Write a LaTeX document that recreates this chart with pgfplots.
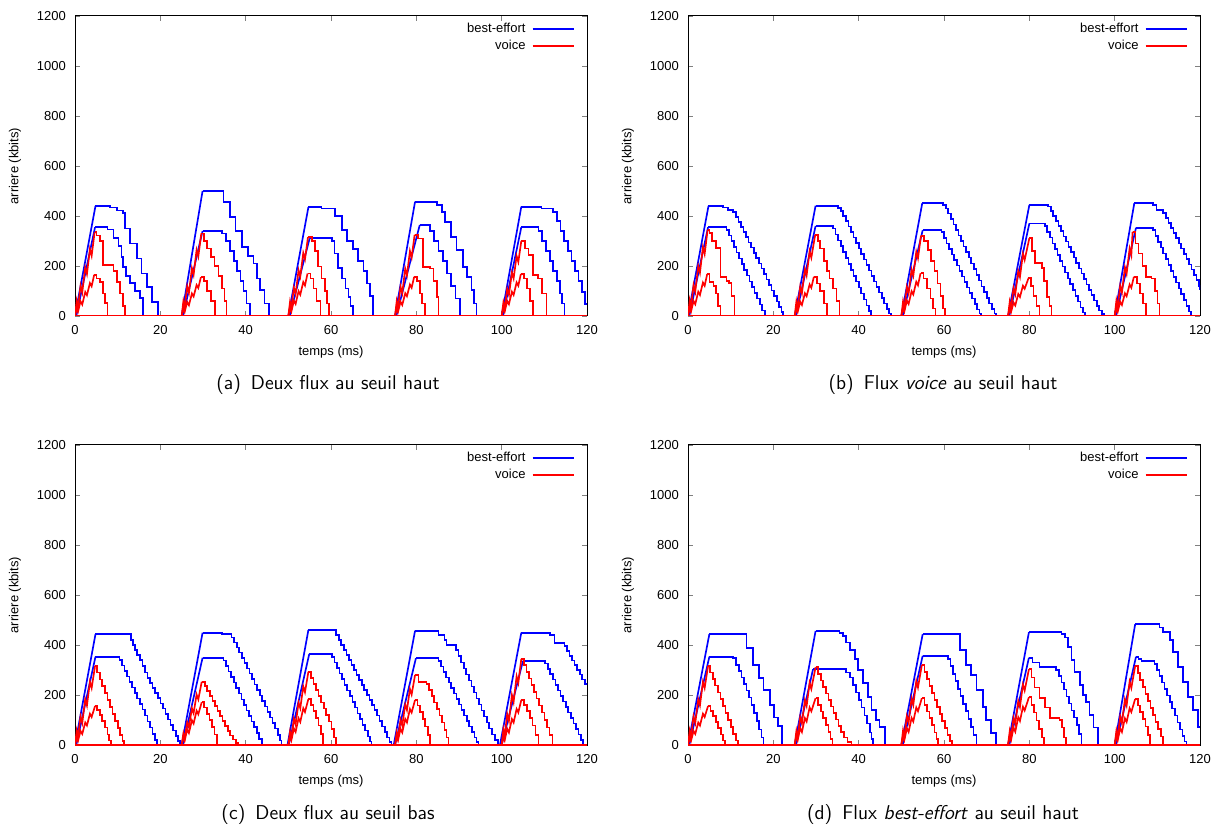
\documentclass[border=0pt]{standalone}
\usepackage{fontspec}
\usepackage{pgfplots}
\pgfplotsset{compat=1.18}
\newfontfamily\gp{Liberation Sans}
\definecolor{gpb}{RGB}{0,0,255}
\definecolor{gpr}{RGB}{255,0,0}
\pgfplotsset{gp/.style={scale only axis, width=307.2pt, height=180pt,
 xmin=0,xmax=120,ymin=0,ymax=1200, xtick={0,20,...,120}, ytick={0,200,...,1200},
 axis line style={line width=0.6pt}, tick style={line width=0.5pt}, major tick length=3pt,
 tick label style={font=\gp\fontsize{7.8}{9}\selectfont},
 /pgf/number format/assume math mode=true, /pgf/number format/1000 sep={},
 xticklabel style={yshift=-2pt}, yticklabel style={xshift=-2pt},
 xlabel={temps (ms)}, ylabel={arriere (kbits)},
 label style={font=\gp\fontsize{7.8}{9}\selectfont},
 xlabel style={at={(axis description cs:0.5,-0.12)}, anchor=center},
 ylabel style={at={(axis description cs:-0.117,0.5)}, anchor=center},
 legend style={draw=none, fill=none, at={(1,1)}, xshift=-7pt, yshift=-3pt, anchor=north east, inner sep=0pt,
   font=\gp\fontsize{7.8}{9}\selectfont, nodes={inner sep=1.2pt}, row sep=0.3pt, column sep=2.5pt},
 legend cell align=right, legend plot pos=right,
 legend image code/.code={\draw[##1] (0pt,0pt) -- (25pt,0pt);},
}}
\newcommand\B[1]{\addplot[color=gpb,line width=1pt,forget plot] coordinates {#1};}
\newcommand\BS[1]{\addplot[color=gpb,line width=1pt,const plot,forget plot] coordinates {#1};}
\newcommand\R[1]{\addplot[color=gpr,line width=1pt,forget plot] coordinates {#1};}
\newcommand\RS[1]{\addplot[color=gpr,line width=1pt,const plot,forget plot] coordinates {#1};}
\newcommand\legs{\addlegendimage{color=gpb, line width=1pt}\addlegendentry{best-effort}
\addlegendimage{color=gpr, line width=1pt}\addlegendentry{voice}}
\begin{document}
\begin{tikzpicture}
\useasboundingbox (0,0) rectangle (735.6pt,498pt);
% ---------------- (a)
\begin{axis}[gp, at={(45pt,308.4pt)}, anchor=south west]
\legs
\B{(0,0)(4.8,440)}\B{(25,0)(29.9,500)}\B{(50,0)(54.7,435)}\B{(75,0)(79.7,457)}\B{(100,0)(104.6,437)}
\B{(0.3,0)(4.7,355)}\B{(25.3,0)(29.9,340)}\B{(50.3,0)(55.0,311)}\B{(75.3,0)(80.8,364)}\B{(100.3,0)(104.6,355)}
\BS{(4.8,440)(8.2,434)(9.8,422)(11.3,413)(11.7,350)(12.9,290)(14.5,230)(15.6,170)(16.9,117)(18.0,57)(19.4,0)}
\BS{(29.9,500)(34.8,457)(36.4,397)(37.6,340)(39.1,277)(40.5,240)(41.8,210)(42.6,150)(43.4,104)(44.4,50)(45.4,0)}
\BS{(54.7,435)(57.8,430)(60.9,400)(62.5,345)(63.7,300)(65.2,267)(66.4,220)(67.6,180)(68.4,130)(69.2,80)(69.9,0)}
\BS{(79.7,457)(84.8,445)(86.0,417)(86.7,377)(88.2,317)(89.4,264)(91.0,197)(91.8,157)(92.9,104)(93.5,50)(94.1,0)}
\BS{(104.6,437)(109.3,430)(112.1,417)(112.9,380)(113.8,340)(114.6,300)(115.5,260)(116.4,220)(117.2,180)(118.0,140)(118.8,95)(119.5,47)(120,47)}
\BS{(4.7,355)(7.6,346)(9.0,312)(10.2,279)(10.9,237)(11.3,197)(12.0,160)(12.9,132)(14.0,100)(15.2,71)(16.0,0)}
\BS{(29.9,340)(34.4,330)(35.4,300)(36.4,260)(37.2,220)(38.0,180)(38.8,140)(39.5,100)(40.2,50)(41.0,0)}
\BS{(55.0,311)(60.2,300)(60.8,250)(61.7,191)(62.6,150)(63.4,110)(64.1,77)(64.6,40)(65.2,0)}
\BS{(80.8,364)(83.2,340)(84.2,300)(85.2,260)(86.3,220)(87.2,170)(88.2,120)(89.2,70)(90.2,0)}
\BS{(104.6,355)(108.6,340)(109.5,300)(110.4,260)(111.3,220)(112.1,180)(112.9,140)(113.7,90)(114.2,50)(114.7,0)}
\R{(0,0)(0.4,60)(0.7,34)(1.3,121)(1.7,94)(2.4,194)(2.8,168)(3.5,268)(3.9,241)(4.6,335)}
\R{(25,0)(25.4,59)(25.7,33)(26.3,119)(26.7,92)(27.4,191)(27.8,165)(28.5,264)(28.9,238)(29.6,330)}
\R{(50,0)(50.4,57)(50.7,32)(51.3,113)(51.7,88)(52.4,183)(52.8,158)(53.5,252)(53.9,227)(54.6,315)}
\R{(75,0)(75.4,59)(75.7,33)(76.3,117)(76.7,91)(77.4,189)(77.8,163)(78.5,260)(78.9,234)(79.6,325)}
\R{(100,0)(100.4,54)(100.7,30)(101.3,108)(101.7,84)(102.4,174)(102.8,150)(103.5,240)(103.9,216)(104.6,300)}
\R{(0,0)(0.4,30)(0.7,17)(1.3,59)(1.7,46)(2.4,96)(2.8,83)(3.5,132)(3.9,119)(4.5,165)}
\R{(25,0)(25.4,28)(25.7,16)(26.3,56)(26.7,43)(27.4,90)(27.8,78)(28.5,124)(28.9,112)(29.5,155)}
\R{(50,0)(50.4,31)(50.7,17)(51.3,61)(51.7,48)(52.4,99)(52.8,85)(53.5,136)(53.9,122)(54.5,170)}
\R{(75,0)(75.4,28)(75.7,16)(76.3,57)(76.7,44)(77.4,91)(77.8,79)(78.5,126)(78.9,113)(79.5,157)}
\R{(100,0)(100.4,30)(100.7,17)(101.3,60)(101.7,47)(102.4,97)(102.8,84)(103.5,134)(103.9,121)(104.5,168)}
\RS{(4.6,335)(5.0,322)(5.8,300)(6.6,204)(9.0,180)(9.8,137)(10.6,90)(11.2,40)(11.7,0)}
\RS{(29.6,330)(30.2,300)(31.0,270)(31.9,235)(32.7,200)(33.6,160)(34.5,110)(35.0,60)(35.5,0)}
\RS{(54.6,315)(55.5,300)(56.2,260)(57.0,198)(57.8,150)(58.6,100)(59.0,50)(59.5,0)}
\RS{(79.6,325)(80.4,310)(81.6,197)(83.2,190)(84.0,140)(84.8,77)(85.2,0)}
\RS{(104.6,300)(105.5,270)(106.3,244)(107.4,164)(108.5,150)(109.5,90)(110.5,0)}
\RS{(4.5,165)(5.0,150)(5.8,137)(6.6,90)(7.1,51)(7.6,0)}
\RS{(29.5,155)(30.2,140)(31.0,100)(31.8,60)(32.8,0)}
\RS{(54.5,170)(55.2,150)(55.9,110)(56.6,60)(57.5,0)}
\RS{(79.5,157)(80.2,140)(80.8,90)(81.4,50)(82.0,0)}
\RS{(104.5,168)(105.2,150)(105.9,110)(106.6,60)(107.4,0)}
\R{(0,0)(120,0)}
\end{axis}
% ---------------- (b)
\begin{axis}[gp, at={(412.8pt,308.4pt)}, anchor=south west]
\legs
\B{(0,0)(4.8,440)}\B{(25,0)(29.9,441)}\B{(50,0)(54.9,451)}\B{(75,0)(80.0,444)}\B{(100,0)(104.6,451)}
\B{(0.3,0)(4.7,355)}\B{(25.3,0)(29.9,360)}\B{(50.3,0)(55.0,343)}\B{(75.3,0)(80.0,370)}\B{(100.3,0)(105.0,353)}
\BS{(4.8,440)(8.2,434)(9.4,425)(10.6,415)(11.2,395)(11.8,375)(12.4,355)(13.0,335)(13.6,315)(14.2,294)(14.8,274)(15.4,252)(16.0,232)(16.6,210)(17.2,190)(17.8,168)(18.4,146)(19.0,124)(19.6,102)(20.2,80)(20.8,58)(21.4,36)(21.9,16)(22.3,0)}
\BS{(29.9,441)(35.1,432)(35.8,420)(36.4,400)(37.0,380)(37.6,358)(38.2,336)(38.8,314)(39.4,292)(40.0,270)(40.6,248)(41.2,226)(41.8,204)(42.4,182)(43.0,160)(43.6,138)(44.2,116)(44.8,94)(45.4,72)(46.0,50)(46.6,28)(47.1,10)(47.6,0)}
\BS{(54.9,451)(59.8,445)(60.4,430)(61.0,410)(61.6,388)(62.2,366)(62.8,344)(63.4,322)(64.0,300)(64.6,278)(65.2,256)(65.8,234)(66.4,210)(67.0,188)(67.6,164)(68.2,142)(68.8,118)(69.4,96)(70.0,72)(70.6,50)(71.2,28)(71.8,10)(72.2,0)}
\BS{(80.0,444)(84.4,438)(85.0,420)(85.6,400)(86.2,380)(86.8,360)(87.4,340)(88.0,318)(88.6,298)(89.2,276)(89.8,256)(90.4,234)(91.0,212)(91.6,190)(92.2,170)(92.8,148)(93.4,126)(94.0,104)(94.6,84)(95.2,62)(95.8,40)(96.4,22)(97.0,8)(97.6,0)}
\BS{(104.6,451)(109.0,445)(109.8,425)(111.4,413)(112.0,393)(112.6,372)(113.2,352)(113.8,332)(114.4,311)(115.0,290)(115.6,270)(116.2,248)(116.8,228)(117.4,206)(118.0,186)(118.6,164)(119.2,144)(119.7,120)(120,104)}
\BS{(4.7,355)(9.0,345)(9.6,322)(10.2,300)(10.8,276)(11.4,254)(12.0,230)(12.6,208)(13.2,184)(13.8,162)(14.4,138)(15.0,115)(15.6,92)(16.2,70)(16.8,46)(17.4,22)(18.0,0)}
\BS{(29.9,360)(34.0,350)(34.6,326)(35.2,302)(35.8,280)(36.4,256)(37.0,232)(37.6,208)(38.2,184)(38.8,160)(39.4,138)(40.0,114)(40.6,90)(41.2,66)(41.8,42)(42.4,20)(42.9,0)}
\BS{(55.0,343)(59.4,335)(60.0,312)(60.6,290)(61.2,268)(61.8,246)(62.4,224)(63.0,202)(63.6,180)(64.2,158)(64.8,136)(65.4,114)(66.0,92)(66.6,70)(67.2,48)(67.8,26)(68.3,10)(68.7,0)}
\BS{(80.0,370)(83.6,360)(84.2,336)(84.8,314)(85.4,290)(86.0,268)(86.6,244)(87.2,220)(87.8,198)(88.4,174)(89.0,150)(89.6,128)(90.2,104)(90.8,80)(91.4,58)(92.0,34)(92.5,14)(93.0,0)}
\BS{(105.0,353)(109.0,344)(109.6,320)(110.2,297)(110.8,274)(111.4,250)(112.0,227)(112.6,204)(113.2,180)(113.8,157)(114.4,134)(115.0,110)(115.6,87)(116.2,64)(116.8,40)(117.4,18)(117.9,0)}
\R{(0,0)(0.4,62)(0.7,35)(1.3,124)(1.7,97)(2.4,200)(2.8,173)(3.5,276)(3.9,248)(4.6,345)}
\R{(25,0)(25.4,58)(25.7,32)(26.3,117)(26.7,91)(27.4,188)(27.8,162)(28.5,259)(28.9,233)(29.8,324)}
\R{(50,0)(50.4,58)(50.7,32)(51.3,116)(51.7,90)(52.4,186)(52.8,161)(53.5,257)(53.9,231)(54.6,321)}
\R{(75,0)(75.4,56)(75.7,31)(76.3,112)(76.7,87)(77.4,180)(77.8,156)(78.5,249)(78.9,224)(80.0,311)}
\R{(100,0)(100.4,61)(100.7,34)(101.3,121)(101.7,94)(102.4,195)(102.8,169)(103.5,270)(103.9,243)(104.2,337)}
\R{(0,0)(0.4,30)(0.7,17)(1.3,60)(1.7,47)(2.4,97)(2.8,84)(3.5,134)(3.9,121)(4.5,168)}
\R{(25,0)(25.4,28)(25.7,16)(26.3,57)(26.7,44)(27.4,91)(27.8,79)(28.5,126)(28.9,113)(29.5,157)}
\R{(50,0)(50.4,31)(50.7,17)(51.3,62)(51.7,48)(52.4,99)(52.8,86)(53.5,137)(53.9,123)(54.5,171)}
\R{(75,0)(75.4,27)(75.7,15)(76.3,54)(76.7,42)(77.4,88)(77.8,76)(78.5,121)(78.9,109)(79.8,151)}
\R{(100,0)(100.4,28)(100.7,16)(101.3,57)(101.7,44)(102.4,91)(102.8,79)(103.5,126)(103.9,113)(104.5,157)}
\RS{(4.6,345)(5.0,333)(5.7,300)(6.6,271)(7.6,157)(9.0,140)(9.6,131)(10.2,80)(10.9,0)}
\RS{(29.8,324)(30.5,300)(31.0,270)(31.8,220)(32.5,180)(33.2,150)(34.0,110)(34.8,60)(35.5,0)}
\RS{(54.6,321)(55.3,300)(56.2,265)(57.0,220)(57.8,180)(58.5,130)(59.2,80)(59.8,30)(60.2,0)}
\RS{(80.0,311)(80.6,260)(81.3,211)(82.9,191)(83.4,140)(84.1,77)(84.7,40)(85.2,0)}
\RS{(104.2,337)(104.9,290)(105.6,250)(106.5,200)(107.4,157)(108.6,150)(109.4,100)(110.0,50)(110.5,0)}
\RS{(4.5,168)(5.0,137)(6.0,120)(6.6,90)(7.1,40)(7.6,0)}
\RS{(29.5,157)(30.2,130)(31.0,100)(31.8,50)(32.6,0)}
\RS{(54.5,171)(55.2,150)(56.0,110)(56.8,70)(57.4,30)(58.0,0)}
\RS{(79.8,151)(80.4,120)(81.0,80)(81.7,40)(82.4,0)}
\RS{(104.5,157)(105.2,130)(105.9,90)(106.6,50)(107.4,0)}
\R{(0,0)(120,0)}
\end{axis}
% ---------------- (c)
\begin{axis}[gp, at={(45pt,51pt)}, anchor=south west]
\legs
\B{(0,0)(4.8,443)}\B{(25,0)(29.9,449)}\B{(49.8,0)(54.7,460)}\B{(74.7,0)(79.7,457)}\B{(99.6,0)(104.6,449)}
\B{(0.3,0)(4.8,353)}\B{(25.3,0)(29.9,349)}\B{(50.1,0)(54.9,364)}\B{(75,0)(79.9,347)}\B{(100,0)(105,337)}
\BS{(4.8,443)(13.1,420)(13.6,400)(14.1,380)(14.6,360)(15.2,340)(15.8,315)(16.4,290)(17.0,268)(17.6,248)(18.2,228)(18.8,208)(19.4,188)(20.0,166)(20.6,146)(21.2,124)(21.8,102)(22.4,80)(23.0,58)(23.6,36)(24.1,16)(24.6,0)}
\BS{(29.9,449)(34.4,445)(36.7,430)(37.3,410)(37.9,390)(38.5,370)(39.1,348)(39.7,328)(40.3,306)(40.9,286)(41.5,264)(42.1,242)(42.7,220)(43.3,198)(43.9,176)(44.5,154)(45.1,132)(45.7,110)(46.3,88)(46.9,66)(47.5,40)(48.0,18)(48.4,0)}
\BS{(54.7,460)(61.2,440)(61.8,420)(62.4,400)(63.0,380)(63.6,360)(64.2,340)(64.8,320)(65.4,300)(66.0,280)(66.6,260)(67.2,240)(67.8,220)(68.4,200)(69.0,180)(69.6,160)(70.2,140)(70.8,118)(71.4,96)(72.0,74)(72.6,52)(73.2,30)(73.7,12)(74.2,0)}
\BS{(79.7,457)(85.2,440)(86.6,420)(87.1,400)(89.3,380)(89.9,355)(90.5,330)(91.1,306)(91.7,282)(92.3,258)(92.9,234)(93.5,210)(94.1,186)(94.7,162)(95.3,138)(95.9,114)(96.5,90)(97.1,66)(97.7,42)(98.4,20)(99.1,0)}
\BS{(104.6,449)(111.4,440)(112.4,407)(114.7,395)(115.3,375)(115.9,357)(116.5,338)(117.1,320)(117.7,300)(118.3,282)(118.9,262)(119.5,245)(120,240)}
\BS{(4.8,353)(10.4,340)(11.0,318)(11.6,296)(12.2,274)(12.8,252)(13.4,230)(14.0,208)(14.6,186)(15.2,164)(15.8,142)(16.4,118)(17.0,94)(17.6,70)(18.2,44)(18.7,20)(19.2,0)}
\BS{(29.9,349)(34.8,338)(35.4,316)(36.0,294)(36.6,272)(37.2,250)(37.8,228)(38.4,206)(39.0,182)(39.6,160)(40.2,138)(40.8,116)(41.4,94)(42.0,72)(42.6,48)(43.2,24)(43.9,0)}
\BS{(54.9,364)(60.2,352)(60.8,330)(61.4,308)(62.0,286)(62.6,264)(63.2,240)(63.8,218)(64.4,196)(65.0,172)(65.6,150)(66.2,126)(66.8,104)(67.4,80)(68.0,58)(68.6,34)(69.1,14)(69.5,0)}
\BS{(79.9,347)(85.2,336)(85.8,314)(86.4,292)(87.0,270)(87.6,250)(88.2,228)(88.8,206)(89.4,184)(90.0,162)(90.6,140)(91.2,118)(91.8,96)(92.4,74)(93.0,52)(93.6,30)(94.1,12)(94.6,0)}
\BS{(105,337)(110.2,326)(110.8,305)(111.4,284)(112.0,262)(112.6,240)(113.2,218)(113.8,196)(114.4,174)(115.0,152)(115.6,130)(116.2,108)(116.8,86)(117.4,64)(118.0,42)(118.6,20)(119.1,0)}
\R{(0,0)(0.4,57)(0.7,32)(1.3,114)(1.7,88)(2.4,183)(2.8,158)(3.5,253)(3.9,228)(4.7,316)}
\R{(25,0)(25.4,46)(25.7,25)(26.3,91)(26.7,71)(27.4,147)(27.8,127)(28.5,202)(28.9,182)(29.7,253)}
\R{(50,0)(50.4,53)(50.7,29)(51.3,105)(51.7,82)(52.4,170)(52.8,147)(53.5,234)(53.9,211)(54.7,293)}
\R{(75,0)(75.4,50)(75.7,28)(76.3,101)(76.7,78)(77.4,162)(77.8,140)(78.5,224)(78.9,202)(79.7,280)}
\R{(100,0)(100.4,62)(100.7,34)(101.3,124)(101.7,96)(102.4,200)(102.8,172)(103.5,275)(103.9,248)(104.6,344)}
\R{(0,0)(0.4,28)(0.7,16)(1.3,56)(1.7,44)(2.4,90)(2.8,78)(3.5,125)(3.9,112)(4.7,156)}
\R{(25,0)(25.4,31)(25.7,17)(26.3,62)(26.7,48)(27.4,99)(27.8,86)(28.5,137)(28.9,123)(29.7,171)}
\R{(50,0)(50.4,33)(50.7,18)(51.3,66)(51.7,52)(52.4,107)(52.8,92)(53.5,147)(53.9,132)(54.7,184)}
\R{(75,0)(75.4,32)(75.7,18)(76.3,65)(76.7,50)(77.4,104)(77.8,90)(78.5,144)(78.9,130)(79.7,180)}
\R{(100,0)(100.4,32)(100.7,18)(101.3,65)(101.7,50)(102.4,104)(102.8,90)(103.5,144)(103.9,130)(104.6,180)}
\RS{(4.7,316)(5.2,290)(5.8,262)(6.4,235)(7.0,208)(7.6,180)(8.2,152)(8.8,124)(9.4,96)(10.0,68)(10.6,40)(11.1,16)(11.5,0)}
\RS{(29.7,253)(30.4,235)(31.0,215)(31.6,195)(32.2,175)(32.8,155)(33.4,135)(34.0,115)(34.6,95)(35.2,75)(35.8,56)(36.4,38)(37.0,22)(37.7,8)(38.3,0)}
\RS{(54.7,293)(55.3,268)(55.9,244)(56.5,220)(57.1,196)(57.7,170)(58.3,146)(58.9,120)(59.5,94)(60.1,64)(60.7,30)(61.2,0)}
\RS{(79.7,280)(80.5,253)(82.4,245)(83.0,220)(83.6,195)(84.2,170)(84.8,145)(85.4,118)(86.0,90)(86.6,60)(87.1,30)(87.5,0)}
\RS{(104.6,344)(105.2,320)(105.8,292)(106.4,266)(107.0,240)(107.6,212)(108.2,186)(108.8,158)(109.4,130)(110.0,100)(110.6,70)(111.2,40)(111.9,0)}
\RS{(4.7,156)(5.2,140)(5.8,120)(6.4,95)(7.0,70)(7.6,42)(8.0,18)(8.4,0)}
\RS{(29.7,171)(30.3,150)(30.9,125)(31.5,100)(32.1,72)(32.7,42)(33.3,0)}
\RS{(54.7,184)(55.3,160)(55.9,135)(56.5,108)(57.1,78)(57.7,45)(58.2,0)}
\RS{(79.7,180)(80.3,158)(80.9,132)(81.5,104)(82.1,74)(82.7,40)(83.2,0)}
\RS{(104.6,180)(105.2,160)(105.9,136)(106.6,108)(107.2,78)(107.9,40)(108.6,0)}
\R{(0,0)(120,0)}
\end{axis}
% ---------------- (d)
\begin{axis}[gp, at={(412.8pt,51pt)}, anchor=south west]
\legs
\B{(0,0)(5.0,443)}\B{(25,0)(29.9,456)}\B{(50,0)(55.0,443)}\B{(75,0)(79.9,451)}\B{(100,0)(104.8,483)}
\B{(0.3,0)(5.0,353)}\B{(25.3,0)(29.3,303)}\B{(50.3,0)(55.0,357)}\B{(75.3,0)(79.9,349)}\B{(100.3,0)(105.0,353)}
\BS{(5.0,443)(13.7,387)(15.2,320)(16.6,267)(17.7,220)(19.2,160)(20.1,110)(21.1,75)(22.0,0)}
\BS{(29.9,456)(35.5,448)(36.3,436)(37.1,410)(38.0,380)(39.1,345)(39.9,300)(41.0,247)(42.2,193)(43.0,140)(44.0,100)(44.9,73)(46.1,0)}
\BS{(55.0,443)(63.7,380)(65.2,320)(66.4,280)(67.6,220)(69.1,153)(69.9,100)(71.0,47)(72.2,0)}
\BS{(79.9,451)(87.5,445)(88.3,430)(89.1,393)(89.9,340)(90.6,293)(91.8,240)(92.5,200)(93.3,173)(94.1,120)(95.0,70)(96.1,0)}
\BS{(104.8,483)(110.5,470)(111.3,453)(112.9,420)(113.6,373)(114.8,313)(116.0,253)(117.2,193)(118.4,140)(119.5,73)(120,73)}
\BS{(5.0,353)(10.6,348)(11.3,320)(11.9,295)(12.5,270)(13.1,244)(13.7,218)(14.3,190)(14.9,160)(15.5,128)(16.1,96)(16.7,62)(17.2,30)(17.7,0)}
\BS{(29.3,303)(37.1,290)(37.9,270)(38.6,240)(39.3,210)(40.0,180)(40.7,150)(41.4,118)(42.0,86)(42.6,50)(43.0,25)(43.4,0)}
\BS{(55.0,357)(60.9,345)(61.5,315)(62.1,285)(62.7,255)(63.3,225)(63.9,195)(64.5,165)(65.1,135)(65.7,105)(66.3,72)(66.9,40)(67.6,0)}
\BS{(79.9,349)(80.7,330)(82.4,313)(86.3,300)(86.9,275)(87.5,250)(88.1,222)(88.7,194)(89.3,166)(89.9,138)(90.5,110)(91.1,80)(91.7,45)(92.2,0)}
\BS{(105.0,353)(105.6,345)(106.3,337)(109.3,325)(109.9,300)(110.5,275)(111.1,250)(111.7,224)(112.3,198)(112.9,172)(113.5,146)(114.1,118)(114.7,90)(115.3,62)(115.9,35)(116.4,14)(116.8,0)}
\R{(0,0)(0.4,57)(0.7,32)(1.3,114)(1.7,88)(2.4,183)(2.8,158)(3.5,253)(3.9,228)(4.7,316)}
\R{(25,0)(25.4,56)(25.7,31)(26.3,112)(26.7,87)(27.4,180)(27.8,156)(28.5,249)(28.9,224)(29.9,311)}
\R{(50,0)(50.4,58)(50.7,32)(51.3,115)(51.7,90)(52.4,186)(52.8,160)(53.5,256)(53.9,230)(54.8,320)}
\R{(75,0)(75.4,55)(75.7,30)(76.3,109)(76.7,85)(77.4,176)(77.8,152)(78.5,242)(78.9,218)(79.9,303)}
\R{(100,0)(100.4,57)(100.7,32)(101.3,114)(101.7,88)(102.4,183)(102.8,158)(103.5,253)(103.9,228)(104.8,316)}
\R{(0,0)(0.4,28)(0.7,16)(1.3,56)(1.7,44)(2.4,90)(2.8,78)(3.5,125)(3.9,112)(4.7,156)}
\R{(25,0)(25.4,34)(25.7,19)(26.3,67)(26.7,52)(27.4,108)(27.8,94)(28.5,150)(28.9,135)(29.9,187)}
\R{(50,0)(50.4,34)(50.7,19)(51.3,67)(51.7,52)(52.4,108)(52.8,94)(53.5,150)(53.9,135)(54.8,187)}
\R{(75,0)(75.4,34)(75.7,19)(76.3,69)(76.7,53)(77.4,111)(77.8,96)(78.5,153)(78.9,138)(79.9,191)}
\R{(100,0)(100.4,33)(100.7,18)(101.3,66)(101.7,52)(102.4,107)(102.8,92)(103.5,147)(103.9,132)(104.8,184)}
\RS{(4.7,316)(5.2,290)(5.8,264)(6.4,238)(7.0,210)(7.6,184)(8.2,156)(8.8,128)(9.4,100)(10.0,72)(10.6,44)(11.2,18)(11.7,0)}
\RS{(29.9,311)(30.5,285)(31.1,258)(31.7,232)(32.3,206)(32.9,180)(33.5,154)(34.1,128)(34.7,102)(35.3,76)(35.9,52)(36.6,30)(37.4,12)(38.3,0)}
\RS{(54.8,320)(55.4,292)(56.0,264)(56.6,236)(57.2,208)(57.8,180)(58.4,152)(59.0,124)(59.6,96)(60.2,68)(60.8,40)(61.4,16)(61.9,0)}
\RS{(79.9,303)(80.5,270)(81.2,230)(82.4,187)(83.6,150)(84.8,107)(87.1,100)(87.6,70)(88.1,30)(88.6,0)}
\RS{(104.8,316)(105.4,288)(106.0,260)(106.6,232)(107.2,204)(107.8,176)(108.4,148)(109.0,120)(109.6,92)(110.2,64)(110.8,34)(111.4,0)}
\RS{(4.7,156)(5.3,135)(5.9,115)(6.5,92)(7.1,68)(7.7,42)(8.2,18)(8.6,0)}
\RS{(29.9,187)(30.5,160)(31.1,134)(31.7,108)(32.3,80)(32.9,52)(33.4,24)(33.9,0)}
\RS{(54.8,187)(55.4,160)(56.0,134)(56.6,108)(57.2,80)(57.8,50)(58.2,24)(58.6,0)}
\RS{(79.9,191)(80.5,160)(81.1,130)(81.7,98)(82.3,64)(82.9,30)(83.4,0)}
\RS{(104.8,184)(105.4,158)(106.0,132)(106.6,104)(107.2,74)(107.8,40)(108.2,0)}
\R{(0,0)(120,0)}
\end{axis}
% captions
\node[font=\sffamily\fontsize{12}{14}\selectfont] at (196.8pt,267pt) {(a)\hspace{0.5em}Deux flux au seuil haut};
\node[font=\sffamily\fontsize{12}{14}\selectfont] at (565.8pt,267pt) {(b)\hspace{0.5em}Flux \textit{voice} au seuil haut};
\node[font=\sffamily\fontsize{12}{14}\selectfont] at (196.8pt,9pt) {(c)\hspace{0.5em}Deux flux au seuil bas};
\node[font=\sffamily\fontsize{12}{14}\selectfont] at (565.8pt,9pt) {(d)\hspace{0.5em}Flux \textit{best-effort} au seuil haut};
\end{tikzpicture}
\end{document}
